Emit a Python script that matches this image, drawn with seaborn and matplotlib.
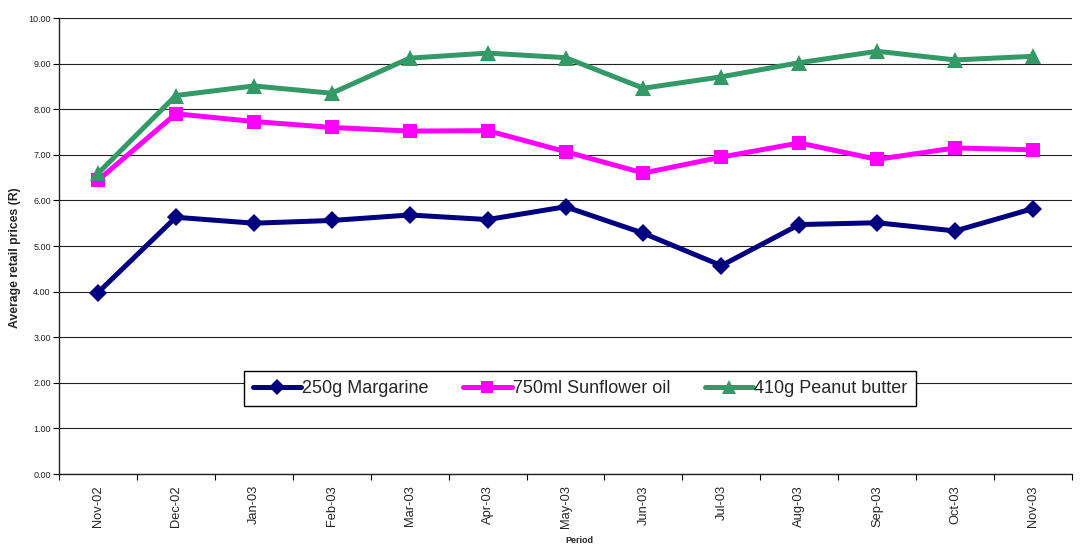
import matplotlib
matplotlib.use("Agg")
import matplotlib.pyplot as plt
import seaborn as sns
import pandas as pd
from matplotlib.ticker import FixedLocator, MultipleLocator, FormatStrFormatter

periods = ["Nov-02", "Dec-02", "Jan-03", "Feb-03", "Mar-03", "Apr-03", "May-03",
           "Jun-03", "Jul-03", "Aug-03", "Sep-03", "Oct-03", "Nov-03"]
margarine = [3.98, 5.63, 5.50, 5.56, 5.68, 5.58, 5.86, 5.28, 4.57, 5.47, 5.51, 5.33, 5.82]
sunflower_oil = [6.44, 7.90, 7.73, 7.60, 7.52, 7.53, 7.07, 6.60, 6.95, 7.26, 6.90, 7.15, 7.11]
peanut_butter = [6.59, 8.30, 8.51, 8.35, 9.12, 9.23, 9.13, 8.46, 8.71, 9.02, 9.27, 9.08, 9.16]

series_names = ["250g Margarine", "750ml Sunflower oil", "410g Peanut butter"]
series_values = [margarine, sunflower_oil, peanut_butter]
colors = {"250g Margarine": "#000080", "750ml Sunflower oil": "#FF00FF",
          "410g Peanut butter": "#339966"}
markers = {"250g Margarine": "D", "750ml Sunflower oil": "s",
           "410g Peanut butter": "^"}
marker_sizes = {"250g Margarine": 9.5, "750ml Sunflower oil": 10.5,
                "410g Peanut butter": 12}
legend_marker_sizes = {"250g Margarine": 8, "750ml Sunflower oil": 9,
                       "410g Peanut butter": 10}

rows = []
for name, vals in zip(series_names, series_values):
    for p, v in zip(periods, vals):
        rows.append({"Period": p, "Price": v, "Product": name})
df = pd.DataFrame(rows)

sns.set_style("white")
plt.rcParams["font.family"] = ["Liberation Sans", "DejaVu Sans"]

fig = plt.figure(figsize=(10.8, 5.47), dpi=100)
ax = fig.add_axes([59 / 1080, 1 - 474 / 547, 1013 / 1080, (474 - 18) / 547])

sns.lineplot(data=df, x="Period", y="Price", hue="Product", style="Product",
             hue_order=series_names, style_order=series_names,
             palette=colors, markers=markers, dashes=False, sort=False,
             linewidth=3.6, markersize=10, markeredgewidth=0, ax=ax)

handles, labels = ax.get_legend_handles_labels()
for h, lab in zip(handles, labels):
    h.set_markersize(legend_marker_sizes[lab])
for line, name in zip(ax.get_lines()[:3], series_names):
    line.set_markersize(marker_sizes[name])

# horizontal gridlines
ax.set_ylim(0, 10)
ax.yaxis.set_major_locator(MultipleLocator(1))
ax.yaxis.set_major_formatter(FormatStrFormatter("%.2f"))
ax.grid(axis="y", color="#222222", linewidth=0.8)
ax.grid(axis="x", visible=False)
ax.set_axisbelow(True)

# category axis with ticks between categories
ax.set_xlim(-0.5, len(periods) - 0.5)
ax.set_xticks(range(len(periods)))
ax.set_xticklabels(periods, rotation=90, fontsize=9.3)
ax.xaxis.set_minor_locator(FixedLocator([i - 0.5 for i in range(len(periods) + 1)]))
ax.tick_params(axis="x", which="major", length=0, pad=8)
ax.tick_params(axis="x", which="minor", length=4, width=0.8, color="black",
               direction="out", bottom=True)
ax.tick_params(axis="y", which="major", length=4, width=0.8, color="black",
               direction="out", left=True, labelsize=6.5, pad=2, labelcolor="#222222")

for side in ("top", "right"):
    ax.spines[side].set_visible(False)
for side in ("left", "bottom"):
    ax.spines[side].set_color("#222222")
    ax.spines[side].set_linewidth(1.0)

ax.set_ylabel("Average retail prices (R)", fontsize=8.8, fontweight="bold")
ax.yaxis.set_label_coords((21 - 59) / 1013, (474 - 258) / 456)
ax.set_xlabel("Period", fontsize=6.5, fontweight="bold")
ax.xaxis.set_label_coords((579 - 59) / 1013, -0.135)

ax.get_legend().remove()
leg = ax.legend(handles, labels, loc="center",
                bbox_to_anchor=((580 - 59) / 1013, (474 - 388.5) / 456),
                ncol=3, fontsize=13, frameon=True, fancybox=False, edgecolor="black",
                framealpha=1, handlelength=2.7, handletextpad=0.05, columnspacing=1.9,
                borderpad=0.5)
leg.get_frame().set_linewidth(1.0)

fig.savefig("out.png", dpi=100)
